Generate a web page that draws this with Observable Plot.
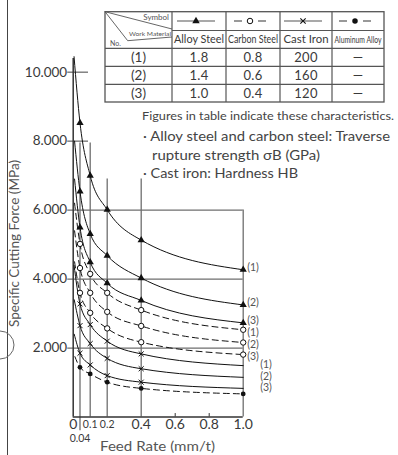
<!DOCTYPE html>
<html><head><meta charset="utf-8">
<script src="https://cdn.jsdelivr.net/npm/d3@7"></script>
<script src="https://cdn.jsdelivr.net/npm/@observablehq/plot@0.6"></script>
<style>
body{margin:0;background:#fff;}
#chart{position:relative;width:398px;height:455px;overflow:hidden;}
</style></head><body><div id="chart"></div>
<script>
// ---------- data ----------
const feedRates = [0.04, 0.1, 0.2, 0.4, 1.0];
const curveNo = ["(1)", "(2)", "(3)"];
const alloySteel = [[8.53, 7.0, 6.01, 5.13, 4.27], [6.54, 5.31, 4.68, 4.03, 3.25], [5.5, 4.49, 3.88, 3.38, 2.73]];
const carbonSteel = [[5.02, 4.15, 3.6, 3.1, 2.53], [4.32, 3.6, 3.05, 2.64, 2.16], [3.6, 3.02, 2.57, 2.17, 1.81]];
const castIron = [[3.28, 2.68, 2.2, 1.83, 1.49], [2.65, 2.13, 1.7, 1.4, 1.15], [1.85, 1.51, 1.2, 1.01, 0.83]];
const aluminumAlloy = [1.44, 1.25, 1.01, 0.83, 0.67];
// leftmost visible end of each curve (feed rate, force)
const alloyStart = [[0.005, 10.45], [0.008, 8.0], [0.008, 6.9]];
const carbonStart = [[0.008, 6.2], [0.008, 5.4], [0.008, 4.5]];
const castStart = [[0.005, 4.4], [0.006, 3.4], [0.006, 2.4]];
const aluminumStart = [0.01, 1.75];

const yTickValues = [2, 4, 6, 8, 10];
const yTickLabels = ["2.000", "4.000", "6.000", "8.000", "10.000"];
const xTickValuesBig = [0, 0.4, 0.6, 0.8, 1.0];
const xTickLabelsBig = ["0", "0.4", "0.6", "0.8", "1.0"];
const xTickValuesSmall = [0.1, 0.2];
const xTickLabelsSmall = ["0.1", "0.2"];
const extraTick = 0.04, extraTickLabel = "0.04";
const gridY = [2, 4, 6];
const shortTicksY = [8, 10];
const gridXTop = [7.95, 7.95, 6.9, 6.9, 6.0];

const tableMaterials = ["Alloy Steel", "Carbon Steel", "Cast Iron", "Aluminum Alloy"];
const tableValues = [["1.8", "0.8", "200", "—"], ["1.4", "0.6", "160", "—"], ["1.0", "0.4", "120", "—"]];
const notes = ["Figures in table indicate these characteristics.", "· Alloy steel and carbon steel: Traverse", "rupture strength σB (GPa)", "· Cast iron: Hardness HB"];

// ---------- build rows ----------
const lineRows = [], markRows = [], endRows = [];
function addSeries(material, dashed, values, start, no, markLast) {
  const id = material + no;
  lineRows.push({id, dashed, x: start[0], y: start[1]});
  values.forEach((v, j) => {
    lineRows.push({id, dashed, x: feedRates[j], y: v});
    if (j < values.length - 1 || markLast) markRows.push({material, x: feedRates[j], y: v});
  });
  if (no) endRows.push({material, no, x: feedRates[feedRates.length - 1], y: values[values.length - 1]});
}
alloySteel.forEach((v, i) => addSeries("alloy", false, v, alloyStart[i], curveNo[i], true));
carbonSteel.forEach((v, i) => addSeries("carbon", true, v, carbonStart[i], curveNo[i], true));
castIron.forEach((v, i) => addSeries("cast", false, v, castStart[i], curveNo[i], false));
addSeries("aluminum", true, aluminumAlloy, aluminumStart, null, true);

const FONT = "Lato, 'Open Sans', sans-serif";
const ink = "#111", grid = "#6e6e6e", txt = "#3a3a3a";

const chart = Plot.plot({
  width: 398, height: 455,
  marginLeft: 72.7, marginRight: 155.3, marginTop: 51, marginBottom: 38.5,
  x: {domain: [0, 1], axis: null},
  y: {domain: [0, 10.6], axis: null},
  style: {fontFamily: FONT, background: "white", overflow: "visible"},
  marks: [
    Plot.ruleY(gridY, {x1: () => -0.032, x2: () => 1, stroke: grid, strokeWidth: 1.3}),
    Plot.ruleY(shortTicksY, {x1: () => -0.032, x2: () => 0.09, stroke: grid, strokeWidth: 1.3}),
    Plot.ruleX(feedRates, {y1: (d) => d === extraTick ? -0.4 : 0, y2: (d, i) => gridXTop[i], stroke: grid, strokeWidth: 1.3}),
    Plot.ruleX([0.6, 0.8], {y1: 0, y2: 0.1, stroke: "#333", strokeWidth: 1}),
    Plot.ruleX([0], {y1: 0, y2: 10.4, stroke: "#333", strokeWidth: 1.5}),
    Plot.ruleY([0], {x1: 0, x2: 1, stroke: "#333", strokeWidth: 1.5}),
    Plot.line(lineRows.filter(d => !d.dashed), {x: "x", y: "y", z: "id", curve: "monotone-x", stroke: ink, strokeWidth: 1}),
    Plot.line(lineRows.filter(d => d.dashed), {x: "x", y: "y", z: "id", curve: "monotone-x", stroke: ink, strokeWidth: 1, strokeDasharray: "6,4"}),
    Plot.dot(markRows.filter(d => d.material === "alloy"), {x: "x", y: "y", symbol: "triangle", r: 2.7, fill: ink}),
    Plot.dot(markRows.filter(d => d.material === "carbon"), {x: "x", y: "y", symbol: "circle", r: 2.7, fill: "white", stroke: ink, strokeWidth: 1}),
    Plot.dot(markRows.filter(d => d.material === "cast"), {x: "x", y: "y", symbol: "times", r: 2.4, stroke: ink, strokeWidth: 1}),
    Plot.dot(markRows.filter(d => d.material === "aluminum"), {x: "x", y: "y", symbol: "circle", r: 2.4, fill: ink}),
    Plot.text(endRows.filter(d => d.material === "alloy"), {x: "x", y: "y", text: "no", dx: 4, dy: -2, textAnchor: "start", fontSize: 10.5, fill: "#555"}),
    Plot.text(endRows.filter(d => d.material === "carbon"), {x: "x", y: "y", text: "no", dx: 4, dy: 2.5, textAnchor: "start", fontSize: 10.5, fill: "#555"}),
    Plot.text(endRows.filter(d => d.material === "cast"), {x: "x", y: "y", text: "no", dx: 17, dy: -1, textAnchor: "start", fontSize: 10.5, fill: "#555"}),
    Plot.text(yTickValues, {x: () => 0, y: d => d, text: (d, i) => yTickLabels[i], dx: -6, textAnchor: "end", fontSize: 13.5, fill: txt}),
    Plot.text(xTickValuesBig, {x: d => d, y: () => 0, text: (d, i) => xTickLabelsBig[i], dy: 8, fontSize: 14, fill: txt}),
    Plot.text(xTickValuesSmall, {x: d => d, y: () => 0, text: (d, i) => xTickLabelsSmall[i], dy: 8, fontSize: 10.5, letterSpacing: -0.6, fill: txt}),
    Plot.text([extraTick], {x: d => d, y: () => 0, text: () => extraTickLabel, dy: 22, fontSize: 10.5, letterSpacing: -0.3, fill: txt})
  ]
});
document.getElementById("chart").appendChild(chart);

// ---------- annotations: table, notes, axis titles ----------
const svg = d3.select(chart);
const G = svg.append("g").attr("font-family", FONT).attr("fill", txt).attr("text-anchor", "start");
function seg(x1, y1, x2, y2, dash, w) {
  G.append("line").attr("x1", x1).attr("y1", y1).attr("x2", x2).attr("y2", y2)
    .attr("stroke", "#555").attr("stroke-width", w || 1.2).attr("stroke-dasharray", dash || null);
}
// page border at left
G.append("line").attr("x1", 7.5).attr("y1", 0).attr("x2", 7.5).attr("y2", 455).attr("stroke", "#444").attr("stroke-width", 1);
G.append("path").attr("d", "M0,331 A14,14 0 0 1 0,359").attr("fill", "none").attr("stroke", "#666").attr("stroke-width", 1);

const colX = [105, 172, 226, 280, 332, 384];
const rowY = [11.7, 30.5, 48.3, 66.3, 84.3, 102];
G.append("rect").attr("x", colX[0]).attr("y", rowY[0]).attr("width", colX[5] - colX[0]).attr("height", rowY[5] - rowY[0])
  .attr("fill", "white").attr("stroke", "#555").attr("stroke-width", 1.3);
colX.slice(1, 5).forEach(x => seg(x, rowY[0], x, rowY[5]));
seg(colX[1], rowY[1], colX[5], rowY[1]);
rowY.slice(2, 5).forEach(y => seg(colX[0], y, colX[5], y));
seg(colX[0], rowY[0], colX[1], 29, null, 0.9);
seg(colX[0], rowY[0], 127.7, 40.7, null, 0.9);
seg(127.7, 40.7, colX[1], 37, null, 0.9);
G.append("text").attr("x", 169).attr("y", 19.5).attr("text-anchor", "end").attr("font-size", 8).attr("fill", "#555").text("Symbol");
G.append("text").attr("x", 171).attr("y", 35.5).attr("text-anchor", "end").attr("font-size", 6.5).attr("textLength", 42).attr("lengthAdjust", "spacingAndGlyphs").attr("fill", "#555").text("Work Material");
G.append("text").attr("x", 110).attr("y", 45.5).attr("font-size", 7).attr("fill", "#555").text("No.");

// symbol row
const symY = 21;
const kinds = ["alloy", "carbon", "cast", "aluminum"];
kinds.forEach((k, i) => {
  const cx = (colX[i + 1] + colX[i + 2]) / 2 - 3;
  if (k === "alloy" || k === "cast") seg(cx - 19, symY, cx + 19, symY, null, 1.2);
  else { seg(cx - 16, symY, cx - 8, symY, null, 1.2); seg(cx + 8, symY, cx + 16, symY, null, 1.2); }
  const sym = k === "alloy" ? d3.symbolTriangle : k === "cast" ? d3.symbolTimes : d3.symbolCircle;
  const p = G.append("path").attr("transform", `translate(${cx},${symY})`).attr("d", d3.symbol(sym, k === "cast" ? 20 : 24)());
  if (k === "carbon") p.attr("fill", "white").attr("stroke", ink).attr("stroke-width", 1);
  else if (k === "cast") p.attr("fill", "none").attr("stroke", ink).attr("stroke-width", 1.1);
  else p.attr("fill", ink);
});
// material names
const nameLen = [50, 50, 45, 47], nameSize = [11, 10.5, 11.5, 8.5];
tableMaterials.forEach((m, i) => {
  G.append("text").attr("x", (colX[i + 1] + colX[i + 2]) / 2).attr("y", 43.2).attr("text-anchor", "middle")
    .attr("font-size", nameSize[i]).attr("textLength", nameLen[i]).attr("lengthAdjust", "spacingAndGlyphs").text(m);
});
// rows
tableValues.forEach((row, r) => {
  const cy = (rowY[r + 2] + rowY[r + 3]) / 2 + 4.5;
  G.append("text").attr("x", (colX[0] + colX[1]) / 2).attr("y", cy + 0.5).attr("text-anchor", "middle").attr("font-size", 13.5).text(curveNo[r]);
  row.forEach((v, c) => {
    G.append("text").attr("x", (colX[c + 1] + colX[c + 2]) / 2).attr("y", cy).attr("text-anchor", "middle")
      .attr("font-size", 13).attr("letter-spacing", 0.3).text(v);
  });
});
// notes
const noteX = [142, 143, 152, 143], noteY = [120, 140.5, 159.5, 178], noteLen = [252, 247, 168, 155], noteSize = [11.2, 13, 13, 13];
notes.forEach((t, i) => {
  G.append("text").attr("x", noteX[i]).attr("y", noteY[i]).attr("text-anchor", "start").attr("font-size", noteSize[i]).attr("fill", "#444")
    .attr("textLength", noteLen[i]).attr("lengthAdjust", "spacingAndGlyphs").text(t);
});
// axis titles
G.append("text").attr("transform", "translate(19,243.5) rotate(-90)").attr("text-anchor", "middle").attr("font-size", 13)
  .attr("fill", "#555").attr("textLength", 167).attr("lengthAdjust", "spacingAndGlyphs").text("Specific Cutting Force (MPa)");
G.append("text").attr("x", 100).attr("y", 451).attr("text-anchor", "start").attr("font-size", 13).attr("fill", "#555")
  .attr("textLength", 115).attr("lengthAdjust", "spacingAndGlyphs").text("Feed Rate (mm/t)");
</script></body></html>
